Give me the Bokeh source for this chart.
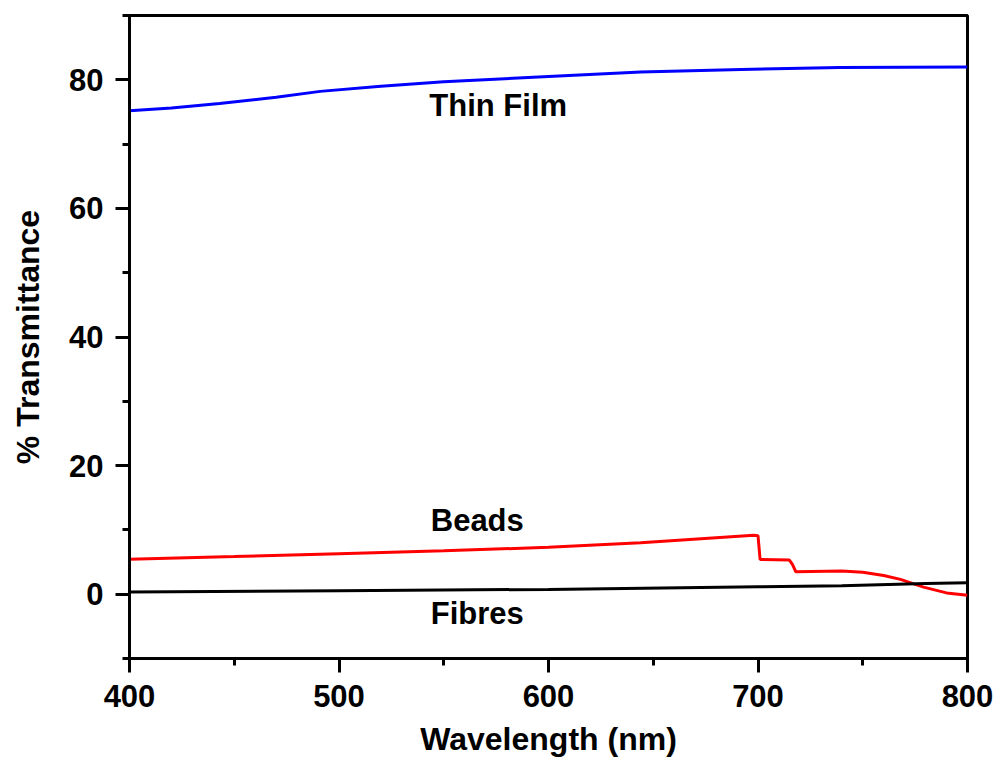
from bokeh.plotting import figure
from bokeh.models import Range1d, SingleIntervalTicker, Label
from bokeh.embed import file_html
from bokeh.resources import INLINE

# Data
film_x = [400, 420, 443, 470, 491, 520, 550, 600, 644, 692, 739, 800]
film_y = [75.2, 75.6, 76.3, 77.3, 78.2, 79.0, 79.7, 80.5, 81.2, 81.6, 81.9, 82.0]

beads_x = [400, 450, 500, 550, 600, 644, 698, 700, 701, 715, 716.5, 718, 740, 750, 760, 768, 779, 790, 800]
beads_y = [5.45, 5.85, 6.3, 6.75, 7.3, 8.0, 9.15, 9.1, 5.4, 5.3, 4.6, 3.5, 3.6, 3.4, 2.9, 2.3, 1.1, 0.2, -0.15]

fibre_x = [400, 500, 600, 700, 740, 780, 800]
fibre_y = [0.35, 0.55, 0.75, 1.15, 1.3, 1.65, 1.8]

x_range = (400, 800)
y_range = (-10, 90)

labels = ["Thin Film", "Beads", "Fibres"]
label_x = [576, 566, 566]
label_y = [76.0, 11.5, -3.0]

FONT = "Liberation Sans"

p = figure(width=998, height=759, output_backend="svg", toolbar_location=None,
           x_range=Range1d(*x_range), y_range=Range1d(*y_range),
           min_border_left=129, min_border_right=31, min_border_top=15, min_border_bottom=101)

p.background_fill_color = "white"
p.border_fill_color = "white"
p.outline_line_color = "black"
p.outline_line_width = 3
p.xgrid.visible = False
p.ygrid.visible = False

p.line(film_x, film_y, line_color="#0000ff", line_width=3)
p.line(beads_x, beads_y, line_color="#ff0000", line_width=3)
p.line(fibre_x, fibre_y, line_color="black", line_width=3)

for t, lx, ly in zip(labels, label_x, label_y):
    p.add_layout(Label(x=lx, y=ly, text=t, text_align="center", text_baseline="alphabetic",
                       text_font=FONT, text_font_style="bold", text_font_size="31px",
                       text_color="black"))

p.xaxis.ticker = SingleIntervalTicker(interval=100, num_minor_ticks=2)
p.yaxis.ticker = SingleIntervalTicker(interval=20, num_minor_ticks=2)

for ax in (p.xaxis, p.yaxis):
    ax.axis_line_width = 3
    ax.axis_line_color = "black"
    ax.major_tick_line_width = 3
    ax.minor_tick_line_width = 3
    ax.major_tick_in = 0
    ax.minor_tick_in = 0
    ax.major_tick_out = 14
    ax.minor_tick_out = 7
    ax.major_label_text_font = FONT
    ax.major_label_text_font_style = "bold"
    ax.major_label_text_font_size = "31px"
    ax.major_label_text_color = "black"
    ax.axis_label_text_font = FONT
    ax.axis_label_text_font_style = "bold"
    ax.axis_label_text_font_size = "32px"
    ax.axis_label_text_color = "black"

p.xaxis.axis_label = "Wavelength (nm)"
p.yaxis.axis_label = "% Transmittance"
p.xaxis.major_label_standoff = 12
p.xaxis.axis_label_standoff = 11
p.yaxis.major_label_standoff = 12
p.yaxis.axis_label_standoff = 20

open("out.html", "w").write(file_html(p, INLINE))
